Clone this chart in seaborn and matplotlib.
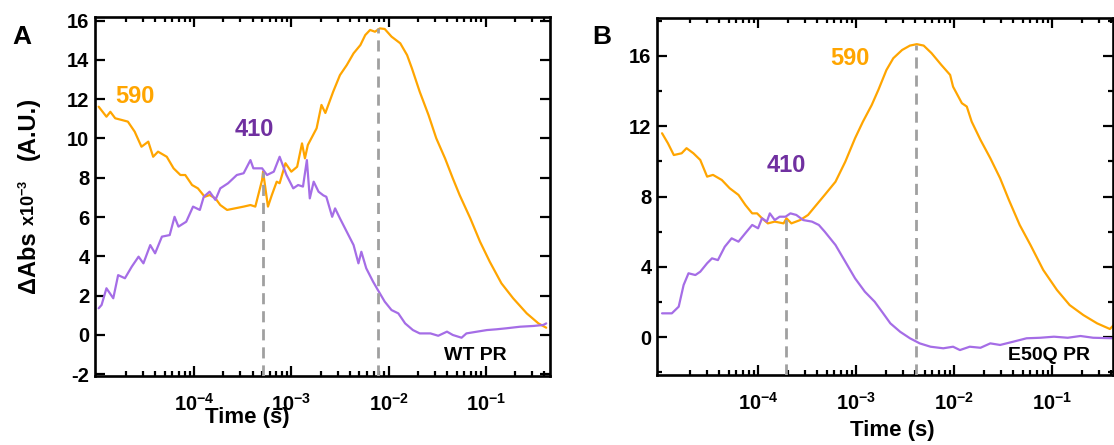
import numpy as np
import pandas as pd
import matplotlib
matplotlib.use("Agg")
import matplotlib.pyplot as plt
import matplotlib.ticker as mticker
import seaborn as sns

# ---------------- data (log10 of time in s, ΔAbs x10^-3) ----------------
a590_logt = [-4.98, -4.90, -4.86, -4.81, -4.74, -4.68, -4.61, -4.54, -4.47, -4.42, -4.37, -4.28,
             -4.21, -4.14, -4.09, -4.02, -3.96, -3.89, -3.84, -3.78, -3.73, -3.66, -3.58, -3.49,
             -3.42, -3.37, -3.30, -3.29, -3.24, -3.20, -3.15, -3.12, -3.06, -3.00, -2.94, -2.89,
             -2.86, -2.83, -2.74, -2.69, -2.65, -2.57, -2.50, -2.43, -2.36, -2.29, -2.24, -2.19,
             -2.14, -2.09, -2.04, -1.97, -1.88, -1.81, -1.76, -1.68, -1.59, -1.51, -1.42, -1.34,
             -1.27, -1.16, -1.06, -0.96, -0.84, -0.72, -0.58, -0.46, -0.38]
a590_val = [11.62, 11.11, 11.36, 11.03, 10.94, 10.86, 10.35, 9.58, 9.84, 9.07, 9.33, 9.07,
            8.48, 8.14, 8.14, 7.63, 7.46, 7.03, 7.12, 6.95, 6.61, 6.36, 6.44, 6.53,
            6.61, 6.53, 7.89, 8.31, 6.53, 7.12, 7.80, 7.72, 8.74, 8.31, 8.56, 9.75,
            8.99, 9.67, 10.52, 11.71, 11.30, 12.38, 13.23, 13.74, 14.34, 14.76, 15.27, 15.53,
            15.44, 15.61, 15.58, 15.19, 14.85, 14.25, 13.57, 12.38, 11.20, 10.01, 8.99, 7.97,
            7.12, 5.93, 4.74, 3.72, 2.62, 1.86, 1.09, 0.58, 0.36]

a410_logt = [-4.98, -4.95, -4.90, -4.83, -4.78, -4.71, -4.64, -4.57, -4.52, -4.45, -4.40, -4.33,
             -4.25, -4.20, -4.16, -4.08, -4.01, -3.94, -3.90, -3.84, -3.78, -3.73, -3.65, -3.56,
             -3.49, -3.42, -3.39, -3.30, -3.25, -3.18, -3.12, -3.05, -2.98, -2.93, -2.88, -2.84,
             -2.81, -2.77, -2.72, -2.67, -2.64, -2.58, -2.55, -2.50, -2.43, -2.36, -2.31, -2.28,
             -2.23, -2.16, -2.11, -2.04, -1.97, -1.90, -1.83, -1.75, -1.68, -1.57, -1.49, -1.40,
             -1.34, -1.25, -1.20, -1.09, -0.99, -0.89, -0.79, -0.65, -0.51, -0.41, -0.38]
a410_val = [1.35, 1.52, 2.37, 1.86, 3.04, 2.88, 3.47, 3.98, 3.64, 4.57, 4.15, 5.00,
            5.08, 6.01, 5.51, 5.76, 6.53, 6.36, 7.03, 7.29, 6.87, 7.46, 7.72, 8.14,
            8.23, 8.90, 8.48, 8.48, 8.14, 8.31, 9.07, 8.14, 7.46, 7.63, 7.55, 8.90,
            6.95, 7.80, 7.29, 7.10, 7.03, 6.01, 6.44, 5.93, 5.25, 4.57, 3.64, 4.23,
            3.39, 2.71, 2.28, 1.69, 1.26, 1.09, 0.58, 0.24, 0.07, 0.07, -0.05, 0.16,
            -0.01, -0.15, 0.07, 0.16, 0.24, 0.28, 0.33, 0.41, 0.45, 0.50, 0.58]

b590_logt = [-4.98, -4.92, -4.86, -4.78, -4.73, -4.66, -4.59, -4.52, -4.46, -4.37, -4.29, -4.20,
             -4.13, -4.06, -4.01, -3.96, -3.90, -3.83, -3.74, -3.71, -3.66, -3.57, -3.49, -3.42,
             -3.32, -3.21, -3.11, -3.01, -2.93, -2.84, -2.77, -2.69, -2.62, -2.53, -2.45, -2.38,
             -2.31, -2.23, -2.13, -2.04, -2.01, -1.92, -1.87, -1.82, -1.73, -1.63, -1.53, -1.44,
             -1.33, -1.22, -1.09, -0.95, -0.82, -0.68, -0.54, -0.41, -0.37]
b590_val = [11.60, 11.03, 10.36, 10.46, 10.75, 10.46, 10.08, 9.13, 9.23, 8.94, 8.47, 8.09,
            7.52, 7.04, 7.04, 6.76, 6.47, 6.57, 6.47, 6.76, 6.47, 6.66, 6.95, 7.42,
            8.09, 8.84, 9.98, 11.32, 12.26, 13.21, 14.10, 15.20, 15.87, 16.34, 16.59, 16.67,
            16.59, 16.16, 15.49, 14.92, 14.25, 13.31, 13.12, 12.26, 11.22, 10.18, 9.04, 7.80,
            6.38, 5.24, 3.82, 2.68, 1.82, 1.25, 0.78, 0.46, 0.68]

b410_logt = [-4.98, -4.88, -4.81, -4.76, -4.71, -4.64, -4.59, -4.52, -4.47, -4.41, -4.34, -4.27,
             -4.20, -4.13, -4.06, -4.00, -3.96, -3.91, -3.88, -3.83, -3.78, -3.72, -3.67, -3.61,
             -3.54, -3.45, -3.38, -3.32, -3.21, -3.11, -3.01, -2.91, -2.81, -2.73, -2.65, -2.55,
             -2.45, -2.35, -2.24, -2.11, -2.01, -1.94, -1.84, -1.73, -1.63, -1.53, -1.40, -1.26,
             -1.12, -0.98, -0.84, -0.71, -0.58, -0.37]
b410_val = [1.35, 1.35, 1.73, 2.96, 3.63, 3.53, 3.72, 4.20, 4.48, 4.38, 5.14, 5.62,
            5.43, 5.91, 6.38, 6.19, 6.76, 6.57, 7.04, 6.66, 6.85, 6.85, 7.04, 6.95,
            6.66, 6.57, 6.38, 6.00, 5.24, 4.29, 3.34, 2.58, 2.01, 1.40, 0.78, 0.30,
            -0.07, -0.36, -0.55, -0.64, -0.55, -0.74, -0.55, -0.61, -0.36, -0.45, -0.27, -0.07,
            -0.04, 0.02, -0.04, 0.06, -0.04, -0.07]

# marker (dashed) positions: (log10 time, top value)
a_marks_logt = [-3.29, -2.11]
a_marks_top = [8.31, 15.61]
b_marks_logt = [-3.72, -2.39]
b_marks_top = [6.70, 16.65]

x_major_ticks = [1e-4, 1e-3, 1e-2, 1e-1]

# ---------------- style ----------------
sns.set_theme(style="ticks")
plt.rcParams.update({
    "font.family": ["Liberation Sans", "DejaVu Sans"],
    "font.weight": "bold",
    "axes.labelweight": "bold",
    "axes.unicode_minus": False,
    "text.color": "black",
    "axes.labelcolor": "black",
    "xtick.color": "black",
    "ytick.color": "black",
    "xtick.labelcolor": "black",
    "ytick.labelcolor": "black",
    "mathtext.fontset": "custom",
    "mathtext.rm": "Liberation Sans:bold",
    "mathtext.it": "Liberation Sans:bold",
    "mathtext.bf": "Liberation Sans:bold",
    "mathtext.sf": "Liberation Sans:bold",
    "mathtext.default": "rm",
})

ORANGE = "#FFA500"
PURPLE_LINE = "#A56DE6"
PURPLE_TEXT = "#7030A0"
GREY = "#A0A0A0"

fig = plt.figure(figsize=(11.14, 4.45), dpi=100)
axA = fig.add_axes([95 / 1114, 1 - 376 / 445, 455 / 1114, 359 / 445])
axB = fig.add_axes([657 / 1114, 1 - 375 / 445, 456 / 1114, 357 / 445])


def frame(logt, val, name):
    return pd.DataFrame({"t": np.power(10.0, logt), "v": val, "s": name})


def style_axes(ax, ylim, ymajor, yminor):
    ax.set_xscale("log")
    ax.set_ylim(*ylim)
    ax.yaxis.set_major_locator(mticker.MultipleLocator(ymajor))
    if yminor:
        ax.yaxis.set_minor_locator(mticker.MultipleLocator(yminor))
    else:
        ax.yaxis.set_minor_locator(mticker.NullLocator())
    ax.xaxis.set_major_locator(mticker.FixedLocator(x_major_ticks))
    ax.xaxis.set_major_formatter(mticker.LogFormatterSciNotation())
    ax.xaxis.set_minor_locator(mticker.LogLocator(base=10, subs=np.arange(2, 10), numticks=20))
    ax.xaxis.set_minor_formatter(mticker.NullFormatter())
    for sp in ax.spines.values():
        sp.set_visible(True)
        sp.set_linewidth(1.9)
        sp.set_color("black")
    ax.tick_params(which="both", direction="in", top=True, right=True, width=1.6, color="black")
    ax.tick_params(which="major", length=7)
    ax.tick_params(which="minor", length=3.6)
    ax.tick_params(axis="x", which="major", pad=12, labelsize=14.5, labelcolor="black")
    ax.tick_params(axis="y", which="major", pad=4, labelsize=14.5, labelcolor="black")
    for lab in ax.get_xticklabels() + ax.get_yticklabels():
        lab.set_fontweight("bold")


# ---------- Panel A ----------
dfA = pd.concat([frame(a590_logt, a590_val, "590"), frame(a410_logt, a410_val, "410")])
sns.lineplot(data=dfA, x="t", y="v", hue="s", palette={"590": ORANGE, "410": PURPLE_LINE},
             estimator=None, sort=False, lw=1.6, legend=False, ax=axA)
style_axes(axA, (-2.1, 16.19), 2, None)
axA.set_xlim(9.6e-6, 0.456)
for lt, top in zip(a_marks_logt, a_marks_top):
    axA.vlines(10 ** lt, -2.1, top, colors=GREY, linestyles=(0, (4, 2.5)), lw=2.0, zorder=3)
axA.set_xlabel("Time (s)", fontsize=16, fontweight="bold", va="top", color="black")
axA.xaxis.set_label_coords(0.334, -0.085)
axA.set_ylabel("")
axA.text(10 ** -4.61, 12.16, "590", color=ORANGE, fontsize=17, fontweight="bold", ha="center", va="center")
axA.text(10 ** -3.38, 10.48, "410", color=PURPLE_TEXT, fontsize=17, fontweight="bold", ha="center", va="center")
axA.text(10 ** -1.107, -1.05, "WT PR", color="black", fontsize=14, fontweight="bold", ha="center", va="center")

# ---------- Panel B ----------
dfB = pd.concat([frame(b590_logt, b590_val, "590"), frame(b410_logt, b410_val, "410")])
sns.lineplot(data=dfB, x="t", y="v", hue="s", palette={"590": ORANGE, "410": PURPLE_LINE},
             estimator=None, sort=False, lw=1.6, legend=False, ax=axB)
style_axes(axB, (-2.16, 18.16), 4, 2)
axB.set_xlim(9.3e-6, 0.419)
for lt, top in zip(b_marks_logt, b_marks_top):
    axB.vlines(10 ** lt, -2.16, top, colors=GREY, linestyles=(0, (4, 2.5)), lw=2.0, zorder=3)
axB.set_xlabel("Time (s)", fontsize=16, fontweight="bold", va="top", color="black")
axB.xaxis.set_label_coords(0.515, -0.125)
axB.set_ylabel("")
axB.text(10 ** -3.06, 15.83, "590", color=ORANGE, fontsize=17, fontweight="bold", ha="center", va="center")
axB.text(10 ** -3.71, 9.74, "410", color=PURPLE_TEXT, fontsize=17, fontweight="bold", ha="center", va="center")
axB.text(10 ** -1.036, -1.05, "E50Q PR", color="black", fontsize=14, fontweight="bold", ha="center", va="center")

# ---------- panel letters & y label ----------
fig.text(22 / 1114, 1 - 37 / 445, "A", fontsize=19, fontweight="bold", ha="center", va="center", color="black")
fig.text(602 / 1114, 1 - 37 / 445, "B", fontsize=19, fontweight="bold", ha="center", va="center", color="black")

ybase = 35 / 1114
fig.text(ybase, 1 - 262 / 445, "ΔAbs", fontsize=17, fontweight="bold", rotation=90,
         rotation_mode="anchor", ha="center", va="baseline", color="black")
fig.text(ybase, 1 - 203 / 445, r"x10$^{-3}$", fontsize=13, fontweight="bold", rotation=90,
         rotation_mode="anchor", ha="center", va="baseline", color="black")
fig.text(ybase, 1 - 128 / 445, "(A.U.)", fontsize=17, fontweight="bold", rotation=90,
         rotation_mode="anchor", ha="center", va="baseline", color="black")

fig.savefig("out.png", dpi=100)
